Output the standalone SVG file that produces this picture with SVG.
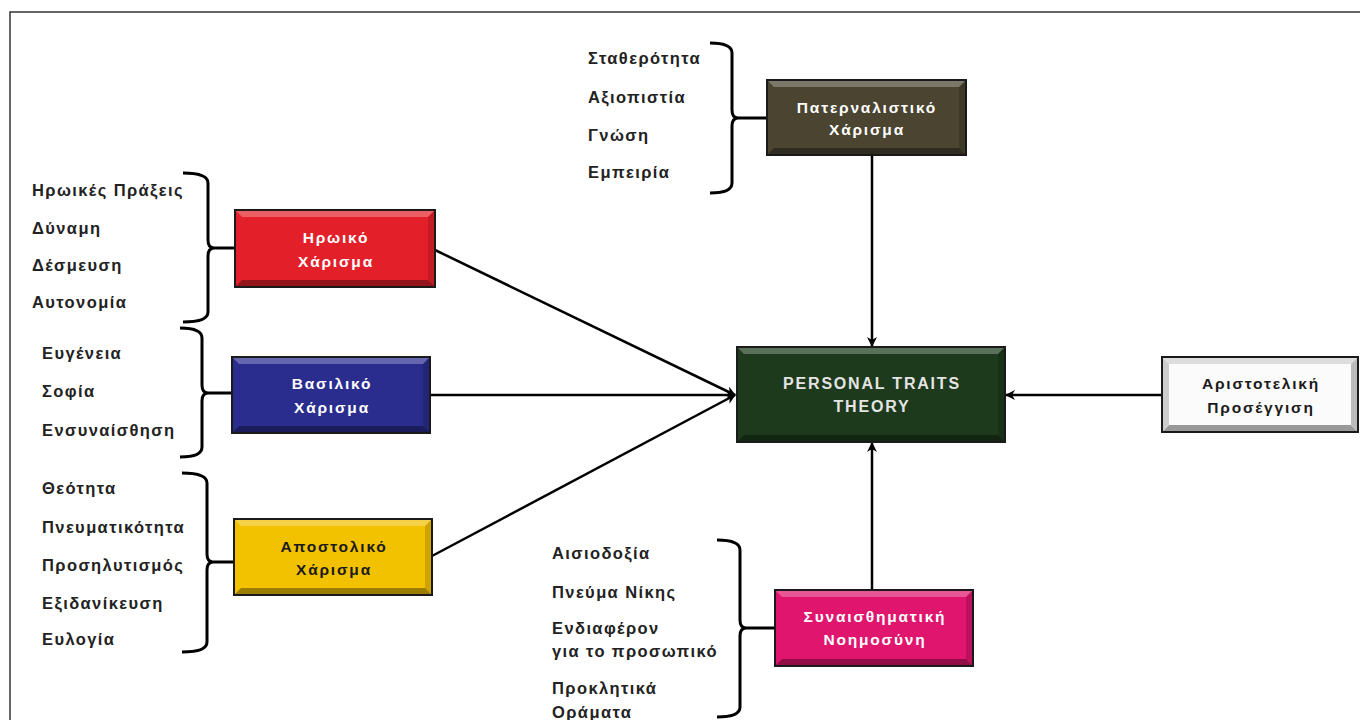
<svg xmlns="http://www.w3.org/2000/svg" width="1360" height="720" viewBox="0 0 1360 720">
<style>
.frame{fill:#fff;stroke:#333;stroke-width:1.5}
.lbl{font-family:"Liberation Sans",Arial,sans-serif;font-size:16.5px;font-weight:bold;letter-spacing:1.4px;fill:#222}
.bt{font-family:"Liberation Sans",Arial,sans-serif;font-size:15.5px;font-weight:bold;letter-spacing:1.8px;text-anchor:middle}
.box{stroke:#1a1a1a;stroke-width:2}
.hi{fill:#fff;opacity:0.28}
.lo{fill:#000;opacity:0.35}
.sd{fill:#000;opacity:0.15}
.brace{fill:none;stroke:#000;stroke-width:3;stroke-linejoin:round}
.conn{stroke:#000;stroke-width:2.5;fill:none}
</style>
<defs>
<marker id="ah" markerWidth="10" markerHeight="10" refX="9" refY="5" orient="auto" markerUnits="userSpaceOnUse">
<path d="M0,0 L10,5 L0,10 L3,5 Z" fill="#000"/>
</marker>
</defs>
<rect x="0" y="0" width="1360" height="720" fill="#fff"/>
<rect class="frame" x="10" y="12" width="1370" height="730"/>

<g id="connectors">
<line class="conn" x1="435" y1="250" x2="735" y2="395" marker-end="url(#ah)"/>
<line class="conn" x1="430" y1="395" x2="735" y2="395" marker-end="url(#ah)"/>
<line class="conn" x1="432" y1="556" x2="735" y2="395" marker-end="url(#ah)"/>
<line class="conn" x1="872" y1="155" x2="872" y2="346" marker-end="url(#ah)"/>
<line class="conn" x1="872" y1="590" x2="872" y2="443" marker-end="url(#ah)"/>
<line class="conn" x1="1162" y1="395" x2="1006" y2="395" marker-end="url(#ah)"/>
</g>

<g id="heroic-list">
<path class="brace" d="M183,173 Q208,173 208,183 L208,240 Q208,248 214,248 L235,248 M214,248 Q208,248 208,256 L208,312 Q208,322 183,322"/>
<text class="lbl" x="32" y="196">Ηρωικές Πράξεις</text>
<text class="lbl" x="32" y="234">Δύναμη</text>
<text class="lbl" x="32" y="271">Δέσμευση</text>
<text class="lbl" x="32" y="308">Αυτονομία</text>
</g>

<g id="royal-list">
<path class="brace" d="M180,328 Q202,328 202,338 L202,385 Q202,393 208,393 L232,393 M208,393 Q202,393 202,401 L202,447 Q202,457 180,457"/>
<text class="lbl" x="42" y="359">Ευγένεια</text>
<text class="lbl" x="42" y="397">Σοφία</text>
<text class="lbl" x="42" y="436">Ενσυναίσθηση</text>
</g>

<g id="apostolic-list">
<path class="brace" d="M182,473 Q207,473 207,483 L207,554 Q207,562 213,562 L234,562 M213,562 Q207,562 207,570 L207,642 Q207,652 182,652"/>
<text class="lbl" x="42" y="494">Θεότητα</text>
<text class="lbl" x="42" y="533">Πνευματικότητα</text>
<text class="lbl" x="42" y="571">Προσηλυτισμός</text>
<text class="lbl" x="42" y="609">Εξιδανίκευση</text>
<text class="lbl" x="42" y="645">Ευλογία</text>
</g>

<g id="paternal-list">
<path class="brace" d="M710,43 Q732,43 732,53 L732,110 Q732,118 738,118 L767,118 M738,118 Q732,118 732,126 L732,183 Q732,193 710,193"/>
<text class="lbl" x="588" y="64">Σταθερότητα</text>
<text class="lbl" x="588" y="103">Αξιοπιστία</text>
<text class="lbl" x="588" y="141">Γνώση</text>
<text class="lbl" x="588" y="178">Εμπειρία</text>
</g>

<g id="emotional-list">
<path class="brace" d="M717,540 Q740,540 740,550 L740,620 Q740,628 746,628 L775,628 M746,628 Q740,628 740,636 L740,707 Q740,717 717,717"/>
<text class="lbl" x="552" y="559">Αισιοδοξία</text>
<text class="lbl" x="552" y="598">Πνεύμα Νίκης</text>
<text class="lbl" x="552" y="634">Ενδιαφέρον</text>
<text class="lbl" x="552" y="657">για το προσωπικό</text>
<text class="lbl" x="552" y="694">Προκλητικά</text>
<text class="lbl" x="552" y="718">Οράματα</text>
</g>

<g id="heroic">
<rect class="box" x="235" y="210" width="200" height="77" fill="#e3202a"/>
<polygon class="hi" points="236,211 434,211 428,217 242,217"/>
<polygon class="lo" points="236,286 434,286 428,280 242,280"/>
<polygon class="sd" points="434,211 434,286 428,280 428,217"/>
<text class="bt" x="336" y="243" fill="#fff">Ηρωικό</text>
<text class="bt" x="336" y="267" fill="#fff">Χάρισμα</text>
</g>

<g id="royal">
<rect class="box" x="232" y="357" width="198" height="76" fill="#2a2c8e"/>
<polygon class="hi" points="233,358 429,358 423,364 239,364"/>
<polygon class="lo" points="233,432 429,432 423,426 239,426"/>
<polygon class="sd" points="429,358 429,432 423,426 423,364"/>
<text class="bt" x="332" y="389" fill="#fff">Βασιλικό</text>
<text class="bt" x="332" y="413" fill="#fff">Χάρισμα</text>
</g>

<g id="apostolic">
<rect class="box" x="234" y="519" width="198" height="76" fill="#f2c100"/>
<polygon class="hi" points="235,520 431,520 425,526 241,526"/>
<polygon class="lo" points="235,594 431,594 425,588 241,588"/>
<polygon class="sd" points="431,520 431,594 425,588 425,526"/>
<text class="bt" x="334" y="552" fill="#1a1a1a">Αποστολικό</text>
<text class="bt" x="334" y="575" fill="#1a1a1a">Χάρισμα</text>
</g>

<g id="paternal">
<rect class="box" x="767" y="80" width="199" height="75" fill="#4a4430"/>
<polygon class="hi" points="768,81 965,81 959,87 774,87"/>
<polygon class="lo" points="768,154 965,154 959,148 774,148"/>
<polygon class="sd" points="965,81 965,154 959,148 959,87"/>
<text class="bt" x="867" y="113" fill="#fff">Πατερναλιστικό</text>
<text class="bt" x="867" y="135" fill="#fff">Χάρισμα</text>
</g>

<g id="emotional">
<rect class="box" x="775" y="590" width="198" height="76" fill="#e0156e"/>
<polygon class="hi" points="776,591 972,591 966,597 782,597"/>
<polygon class="lo" points="776,665 972,665 966,659 782,659"/>
<polygon class="sd" points="972,591 972,665 966,659 966,597"/>
<text class="bt" x="875" y="622" fill="#fff">Συναισθηματική</text>
<text class="bt" x="875" y="645" fill="#fff">Νοημοσύνη</text>
</g>

<g id="central">
<rect class="box" x="737" y="347" width="268" height="95" fill="#1d3a1c"/>
<polygon class="hi" points="738,348 1004,348 998,354 744,354"/>
<polygon class="lo" points="738,441 1004,441 998,435 744,435"/>
<polygon class="sd" points="1004,348 1004,441 998,435 998,354"/>
<text class="bt" x="872" y="389" fill="#e4e4e4" style="font-size:16px">PERSONAL TRAITS</text>
<text class="bt" x="872" y="412" fill="#e4e4e4" style="font-size:16px">THEORY</text>
</g>

<g id="aristotelian">
<rect class="box" x="1162" y="357" width="196" height="75" fill="#fbfbfb" stroke="#333"/>
<polygon points="1163,358 1357,358 1351,364 1169,364" fill="#ddd"/>
<polygon points="1163,431 1357,431 1351,425 1169,425" fill="#999"/>
<polygon points="1357,358 1357,431 1351,425 1351,364" fill="#bbb"/>
<polygon points="1163,358 1163,431 1169,425 1169,364" fill="#ccc"/>
<text class="bt" x="1261" y="389" fill="#1a1a1a">Αριστοτελική</text>
<text class="bt" x="1261" y="413" fill="#1a1a1a">Προσέγγιση</text>
</g>
</svg>
